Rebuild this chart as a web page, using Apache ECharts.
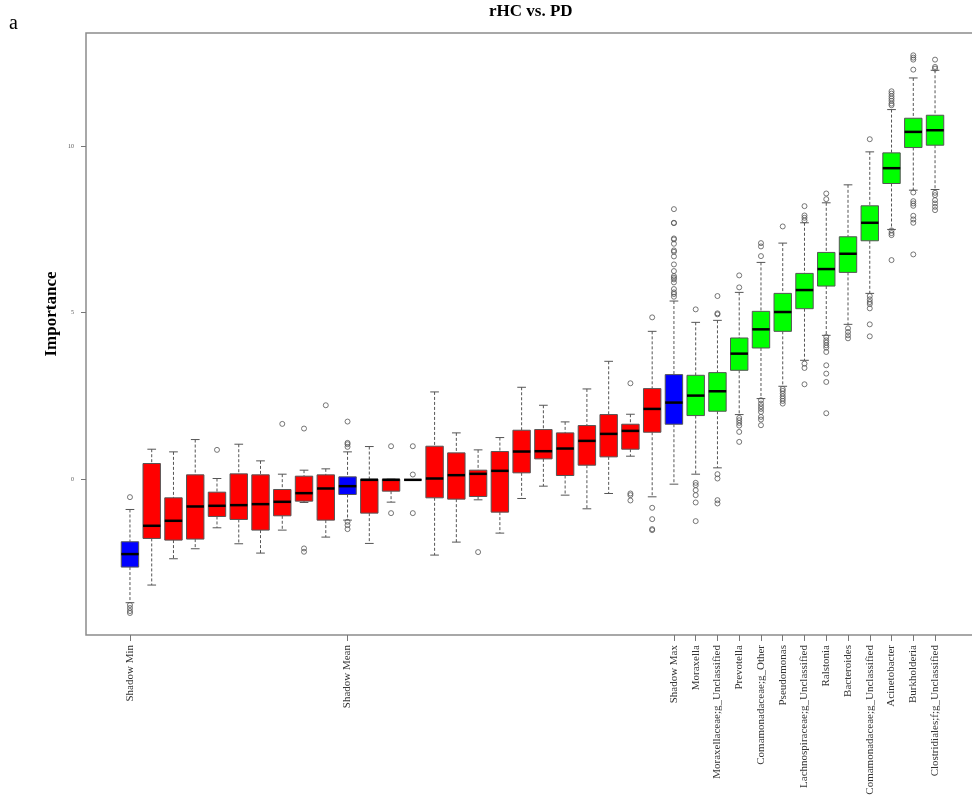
<!DOCTYPE html>
<html><head><meta charset="utf-8">
<script src="https://cdn.jsdelivr.net/npm/echarts@6/dist/echarts.min.js"></script>
<style>html,body{margin:0;padding:0;background:#fff}#c{width:972px;height:803px}</style>
</head><body><div id="c"></div>
<script>
// ---- data ----
const categories = [
  'Shadow Min', '', '', '', '', '', '', '', '', '',
  'Shadow Mean', '', '', '', '', '', '', '', '', '', '', '', '', '',
  '', 'Shadow Max', 'Moraxella', 'Moraxellaceae;g_Unclassified', 'Prevotella',
  'Comamonadaceae;g_Other', 'Pseudomonas', 'Lachnospiraceae;g_Unclassified',
  'Ralstonia', 'Bacteroides', 'Comamonadaceae;g_Unclassified', 'Acinetobacter',
  'Burkholderia', 'Clostridiales;f;g_Unclassified'
];
const boxGroup = [
  'shadow', 'rejected', 'rejected', 'rejected', 'rejected', 'rejected', 'rejected', 'rejected', 'rejected', 'rejected',
  'shadow', 'rejected', 'rejected', 'rejected', 'rejected', 'rejected', 'rejected', 'rejected', 'rejected', 'rejected',
  'rejected', 'rejected', 'rejected', 'rejected', 'rejected', 'shadow',
  'confirmed', 'confirmed', 'confirmed', 'confirmed', 'confirmed', 'confirmed',
  'confirmed', 'confirmed', 'confirmed', 'confirmed', 'confirmed', 'confirmed'
];
const whiskerLow = [-3.71, -3.18, -2.39, -2.09, -1.46, -1.94, -2.22, -1.53, -0.70, -1.74,
  -1.23, -1.93, -0.69, -0.02, -2.28, -1.89, -0.62, -1.62, -0.58, -0.21,
  -0.48, -0.89, -0.43, 0.69, -0.53, -0.15, 0.15, 0.34, 1.94, 2.42,
  2.79, 3.57, 4.32, 4.65, 5.58, 7.50, 8.68, 8.70];
const q1 = [-2.64, -1.78, -1.83, -1.80, -1.12, -1.21, -1.53, -1.10, -0.66, -1.23,
  -0.46, -1.02, -0.36, -0.02, -0.56, -0.60, -0.52, -0.99, 0.19, 0.61,
  0.11, 0.42, 0.67, 0.90, 1.41, 1.65, 1.91, 2.04, 3.27, 3.94,
  4.44, 5.12, 5.80, 6.21, 7.16, 8.88, 9.96, 10.03];
const median = [-2.25, -1.40, -1.25, -0.82, -0.80, -0.78, -0.75, -0.68, -0.42, -0.28,
  -0.21, -0.02, -0.02, -0.02, 0.02, 0.12, 0.16, 0.25, 0.83, 0.84,
  0.92, 1.15, 1.36, 1.45, 2.11, 2.30, 2.51, 2.64, 3.77, 4.50,
  5.02, 5.68, 6.31, 6.77, 7.70, 9.34, 10.43, 10.48];
const q3 = [-1.88, 0.47, -0.56, 0.13, -0.39, 0.16, 0.13, -0.31, 0.09, 0.13,
  0.07, 0.00, 0.00, -0.02, 0.99, 0.79, 0.27, 0.83, 1.47, 1.49,
  1.39, 1.61, 1.94, 1.65, 2.72, 3.14, 3.12, 3.20, 4.24, 5.04,
  5.58, 6.18, 6.81, 7.28, 8.21, 9.80, 10.84, 10.93];
const whiskerHigh = [-0.91, 0.90, 0.82, 1.19, 0.02, 1.05, 0.55, 0.15, 0.27, 0.31,
  0.82, 0.98, 0.00, -0.02, 2.62, 1.39, 0.88, 1.25, 2.76, 2.22,
  1.72, 2.71, 3.54, 1.95, 4.44, 5.35, 4.71, 4.77, 5.61, 6.51,
  7.09, 7.70, 8.30, 8.84, 9.83, 11.10, 12.05, 12.28];
const outliers = [
  [-0.54, -3.78, -3.87, -3.96, -4.02],
  [], [], [], [0.88], [], [], [1.66], [1.52, -2.08, -2.18], [2.22],
  [1.73, 1.09, 1.05, 0.97, -1.28, -1.38, -1.50],
  [], [0.99, -1.02], [0.99, 0.14, -1.02], [], [], [-2.19], [], [], [], [], [], [],
  [2.88, -0.43, -0.48, -0.64],
  [4.86, -0.86, -1.20, -1.50, -1.53],
  [8.11, 7.70, 7.69, 7.23, 7.20, 7.07, 6.87, 6.83, 6.69, 6.45, 6.25, 6.10, 6.05, 6.00, 5.91, 5.71, 5.61, 5.56, 5.48],
  [5.10, -0.11, -0.18, -0.33, -0.48, -0.70, -1.26],
  [5.50, 4.98, 4.95, 0.15, 0.02, -0.63, -0.73],
  [6.12, 5.76, 1.84, 1.77, 1.69, 1.61, 1.42, 1.12],
  [7.09, 6.99, 6.70, 2.37, 2.27, 2.19, 2.11, 2.02, 1.87, 1.79, 1.62],
  [7.59, 2.71, 2.65, 2.57, 2.49, 2.42, 2.35, 2.27],
  [8.20, 7.92, 7.85, 7.77, 3.47, 3.34, 2.85],
  [8.58, 8.41, 4.27, 4.17, 4.10, 4.02, 3.95, 3.82, 3.42, 3.17, 2.92, 1.98],
  [4.53, 4.42, 4.32, 4.23],
  [10.21, 5.50, 5.40, 5.32, 5.26, 5.13, 4.65, 4.29],
  [11.65, 11.58, 11.50, 11.43, 11.36, 11.28, 11.23, 7.47, 7.39, 7.33, 6.58],
  [12.73, 12.66, 12.60, 12.30, 8.61, 8.35, 8.28, 8.21, 7.91, 7.80, 7.70, 6.75],
  [12.60, 12.38, 12.33, 8.60, 8.53, 8.38, 8.28, 8.18, 8.08]
];
const yTickValues = [0, 5, 10];
const groupColors = { shadow: '#0000FF', rejected: '#FF0000', confirmed: '#00FF00' };

// ---- build series data ----
const boxData = categories.map((c, i) => [i + 1, whiskerLow[i], q1[i], median[i], q3[i], whiskerHigh[i]]);
const outlierData = [];
outliers.forEach((arr, i) => arr.forEach(v => outlierData.push([i + 1, v])));
const labeledPositions = [];
categories.forEach((c, i) => { if (c) labeledPositions.push(i + 1); });

function renderBox(params, api) {
  const x = api.value(0);
  const lo = api.coord([x, api.value(1)]);
  const b1 = api.coord([x, api.value(2)]);
  const md = api.coord([x, api.value(3)]);
  const b3 = api.coord([x, api.value(4)]);
  const hi = api.coord([x, api.value(5)]);
  const w = api.size([0.8, 0])[0];
  const cap = w / 2;
  const cx = md[0];
  const fill = groupColors[boxGroup[params.dataIndex]];
  const dash = { stroke: '#555', lineWidth: 1, lineDash: [3, 2] };
  const solid = { stroke: '#555', lineWidth: 1 };
  return {
    type: 'group',
    children: [
      { type: 'line', shape: { x1: cx, y1: hi[1], x2: cx, y2: b3[1] }, style: dash },
      { type: 'line', shape: { x1: cx, y1: b1[1], x2: cx, y2: lo[1] }, style: dash },
      { type: 'line', shape: { x1: cx - cap / 2, y1: hi[1], x2: cx + cap / 2, y2: hi[1] }, style: solid },
      { type: 'line', shape: { x1: cx - cap / 2, y1: lo[1], x2: cx + cap / 2, y2: lo[1] }, style: solid },
      { type: 'rect', shape: { x: cx - w / 2, y: b3[1], width: w, height: b1[1] - b3[1] },
        style: { fill: fill, stroke: '#555', lineWidth: 1 } },
      { type: 'line', shape: { x1: cx - w / 2, y1: md[1], x2: cx + w / 2, y2: md[1] },
        style: { stroke: '#000', lineWidth: 2.5 } }
    ]
  };
}

const chart = echarts.init(document.getElementById('c'), null, { renderer: 'canvas' });
chart.setOption({
  backgroundColor: '#fff',
  animation: false,
  title: {
    text: 'rHC vs. PD', left: 489, top: 3, padding: 0,
    textStyle: { fontFamily: 'Liberation Serif', fontWeight: 'bold', fontSize: 17, color: '#000' }
  },
  graphic: [
    { type: 'text', left: 9, top: 14, style: { text: 'a', font: '20px "Liberation Serif"', fill: '#000' } },
    { type: 'text', x: 52, y: 314, rotation: Math.PI / 2,
      style: { text: 'Importance', x: 0, y: 0, align: 'center', verticalAlign: 'middle',
        font: 'bold 17px "Liberation Serif"', fill: '#000' } }
  ],
  grid: { left: 86, top: 33, width: 893, height: 602, show: true, borderColor: '#8c8c8c', borderWidth: 1.5,
    backgroundColor: 'transparent', containLabel: false, outerBoundsMode: 'none' },
  xAxis: {
    type: 'value', min: -1.02, max: 40.02,
    axisLine: { show: false, onZero: false },
    splitLine: { show: false },
    axisTick: { show: true, customValues: labeledPositions, length: 6, lineStyle: { color: '#777', width: 1 } },
    axisLabel: {
      customValues: labeledPositions, rotate: 90, margin: 10,
      fontFamily: 'Liberation Serif', fontSize: 11, color: '#333',
      formatter: v => categories[Math.round(v) - 1] || ''
    }
  },
  yAxis: {
    type: 'value', min: -4.68, max: 13.4,
    axisLine: { show: false, onZero: false },
    splitLine: { show: false },
    axisTick: { show: true, customValues: yTickValues, length: 5, lineStyle: { color: '#777', width: 1 } },
    axisLabel: { customValues: yTickValues, fontSize: 6, color: '#555', margin: 12, fontFamily: 'Liberation Serif' }
  },
  series: [
    { type: 'custom', renderItem: renderBox, data: boxData, silent: true, clip: true,
      encode: { x: 0, y: [1, 2, 3, 4, 5] } },
    { type: 'scatter', data: outlierData, symbol: 'circle', symbolSize: 5, silent: true,
      itemStyle: { color: 'rgba(0,0,0,0)', borderColor: '#555', borderWidth: 1 } }
  ]
});
</script>
</body></html>
